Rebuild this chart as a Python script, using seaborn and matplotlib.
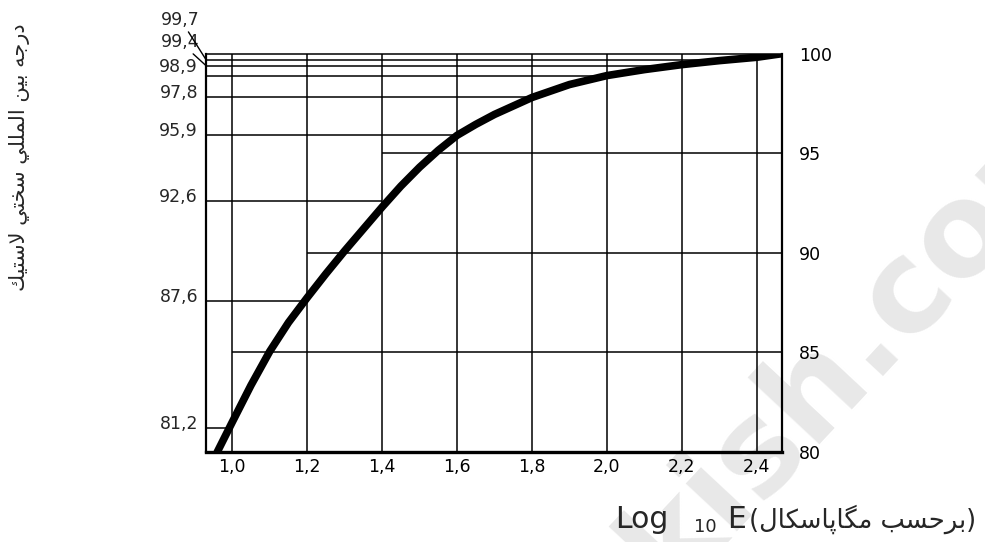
import matplotlib
matplotlib.use("Agg")
import matplotlib.pyplot as plt
import seaborn as sns

# curve: log10 E (MPa) against rubber hardness (IRHD)
log_e = [0.96, 1.0, 1.05, 1.1, 1.15, 1.2, 1.25, 1.3, 1.35, 1.4, 1.45, 1.5, 1.55, 1.6,
         1.65, 1.7, 1.8, 1.9, 2.0, 2.1, 2.2, 2.3, 2.4, 2.467]
irhd = [80.0, 81.5, 83.35, 85.05, 86.5, 87.75, 88.95, 90.1, 91.2, 92.3, 93.35, 94.3, 95.15, 95.9,
        96.45, 96.95, 97.8, 98.45, 98.9, 99.2, 99.45, 99.65, 99.82, 100.0]

# marked values on the left side and the grid column where each line meets the curve
left_vals = [81.2, 87.6, 92.6, 95.9, 97.8, 98.9, 99.4, 99.7]
left_ends = [1.0, 1.2, 1.4, 1.6, 1.8, 2.0, 2.2, 2.4]
left_labels = ['81,2', '87,6', '92,6', '95,9', '97,8', '98,9', '99,4', '99,7']

# right-hand scale, its lines start at a grid column
right_vals = [80, 85, 90, 95, 100]
right_labels = ['80', '85', '90', '95', '100']
right_lines = [85, 90, 95]
right_line_starts = [1.0, 1.2, 1.4]

x_ticks = [1.0, 1.2, 1.4, 1.6, 1.8, 2.0, 2.2, 2.4]
x_labels = ['1,0', '1,2', '1,4', '1,6', '1,8', '2,0', '2,2', '2,4']
x_min, x_max = 0.93, 2.467

# Persian labels, written in shaped (presentation) forms in visual order
ylab = ('\uFEDA\uFEF4\uFE98\uFEB3\uFEFB' + ' ' + '\uFEF2\uFE98\uFEA8\uFEB3' + ' '
        + '\uFEF2\uFEE0\uFEE0\uFEE4\uFEDF\uFE8D' + ' ' + '\uFEE6\uFEF4\uFE91' + ' '
        + '\uFEEA\uFE9F\uFEAD\uFEA9')
xlab_fa = ('(' + '\uFEDD\uFE8E\uFB91\uFEB3\uFE8E\uFB58\uFE8E\uFB95\uFEE3' + ' '
           + '\uFE90\uFEB4\uFEA3\uFEAE\uFE91' + ')')

sns.set_style("white")
plt.rcParams['font.family'] = ['DejaVu Sans']

fig = plt.figure(figsize=(9.85, 5.42), dpi=100)
ax = fig.add_axes([206 / 985, 0.166, 576 / 985, 0.735])
ax.set_facecolor('none')

# faint watermark behind everything
fig.text(862 / 985, 1 - 335 / 542, 'kish.com', rotation=47, fontsize=92, weight='bold',
         color='#e8e8e8', ha='center', va='center', zorder=-5)

# grid columns
ax.vlines(x_ticks, 80, 100, color='black', lw=1.1)
# lines from the left edge to the curve
ax.hlines(left_vals, x_min, left_ends, color='black', lw=1.1)
# lines from a grid column to the right edge
ax.hlines(right_lines, right_line_starts, x_max, color='black', lw=1.1)

sns.lineplot(x=log_e, y=irhd, color='black', lw=5.5, ax=ax, solid_capstyle='round',
             solid_joinstyle='round')

ax.set_xlim(x_min, x_max)
ax.set_ylim(80, 100)
for side, w in [('left', 1.6), ('right', 1.6), ('top', 1.1), ('bottom', 2.4)]:
    ax.spines[side].set_visible(True)
    ax.spines[side].set_color('black')
    ax.spines[side].set_linewidth(w)

ax.set_xticks(x_ticks, x_labels)
ax.yaxis.tick_right()
ax.set_yticks(right_vals, right_labels)
ax.tick_params(axis='both', length=0, labelsize=12.5, colors='black')
ax.tick_params(axis='x', pad=4)
ax.tick_params(axis='y', pad=12)
ax.set_xlabel('')
ax.set_ylabel('')

# left-hand value labels, the top two with leader lines
for v, lab in zip(left_vals, left_labels):
    if lab == '99,7':
        ax.annotate(lab, xy=(x_min, v), xytext=(-6, 40), textcoords='offset pixels',
                    ha='right', va='center', fontsize=12.5,
                    arrowprops=dict(arrowstyle='-', lw=1, color='black', shrinkA=0, shrinkB=0))
    elif lab == '99,4':
        ax.annotate(lab, xy=(x_min, v), xytext=(-7, 24), textcoords='offset pixels',
                    ha='right', va='center', fontsize=12.5,
                    arrowprops=dict(arrowstyle='-', lw=1, color='black', shrinkA=0, shrinkB=0))
    elif lab == '98,9':
        ax.annotate(lab, xy=(x_min, v), xytext=(-8, 9), textcoords='offset pixels',
                    ha='right', va='center', fontsize=12.5)
    else:
        ax.annotate(lab, xy=(x_min, v), xytext=(-8, 4), textcoords='offset pixels',
                    ha='right', va='center', fontsize=12.5)

# axis titles
fig.text(20 / 985, 1 - 157 / 542, ylab, rotation=90, ha='center', va='center', fontsize=15)
base = 1 - 528 / 542
fig.text(615 / 985, base, 'Log', ha='left', va='baseline', fontsize=21.5)
fig.text(694 / 985, base - 4 / 542, '10', ha='left', va='baseline', fontsize=13)
fig.text(727 / 985, base, 'E', ha='left', va='baseline', fontsize=21.5)
fig.text(749 / 985, base, xlab_fa, ha='left', va='baseline', fontsize=18.5)

fig.savefig('out.png', dpi=100, facecolor='white')
